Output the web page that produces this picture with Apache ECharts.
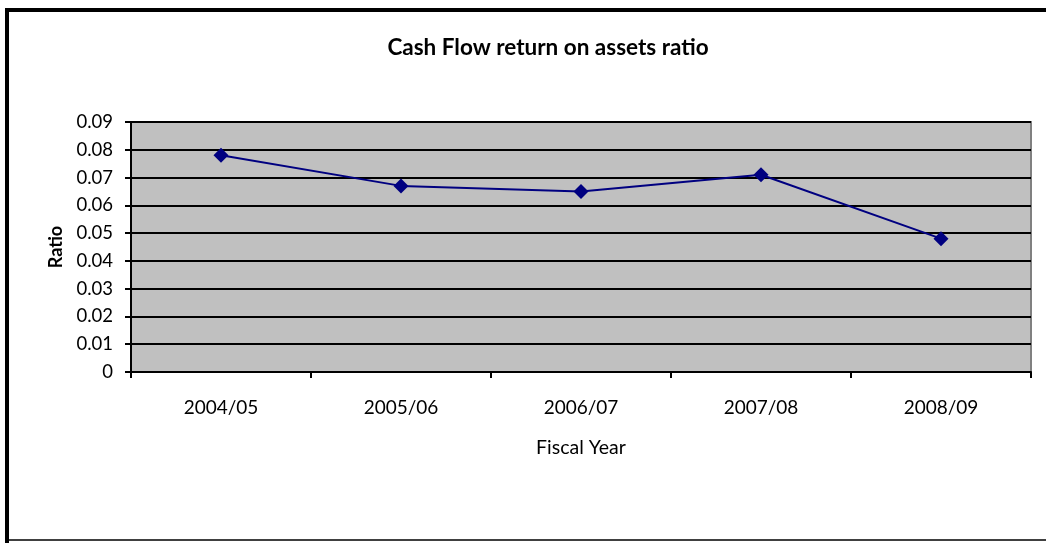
<!DOCTYPE html>
<html>
<head>
<meta charset="utf-8">
<script src="https://cdn.jsdelivr.net/npm/echarts@6/dist/echarts.min.js"></script>
<style>
  html, body { margin: 0; padding: 0; background: #fff; }
  #main { width: 1046px; height: 543px; }
</style>
</head>
<body>
<div id="main"></div>
<script>
var years = ['2004/05', '2005/06', '2006/07', '2007/08', '2008/09'];
var ratio = [0.078, 0.067, 0.065, 0.071, 0.048];

var font = "Lato, 'Open Sans', sans-serif";
var chart = echarts.init(document.getElementById('main'));

var option = {
  animation: false,
  title: {
    text: 'Cash Flow return on assets ratio',
    left: 543,
    top: 31,
    textAlign: 'center',
    textStyle: { fontFamily: font, fontSize: 22.5, fontWeight: 'bold', color: '#000' }
  },
  graphic: [
    {
      type: 'polyline',
      shape: { points: [[7, 545], [7, 10], [1050, 10]] },
      style: { stroke: '#000', lineWidth: 4, fill: null }
    },
    {
      type: 'line',
      shape: { x1: 7, y1: 540, x2: 1050, y2: 540 },
      style: { stroke: '#000', lineWidth: 1.5 }
    }
  ],
  grid: {
    left: 131,
    right: 15,
    top: 122,
    bottom: 171,
    show: true,
    backgroundColor: '#C0C0C0',
    borderColor: '#808080',
    borderWidth: 2
  },
  xAxis: {
    type: 'category',
    data: years,
    boundaryGap: true,
    name: 'Fiscal Year',
    nameLocation: 'middle',
    nameGap: 66,
    nameTextStyle: { fontFamily: font, fontSize: 19.5, color: '#000' },
    axisLine: { lineStyle: { color: '#000', width: 2 } },
    axisTick: { show: true, length: 6, alignWithLabel: false, lineStyle: { color: '#000', width: 2 } },
    axisLabel: { fontFamily: font, fontSize: 19, color: '#000', margin: 26 },
    splitLine: { show: false }
  },
  yAxis: {
    type: 'value',
    min: 0,
    max: 0.09,
    interval: 0.01,
    name: 'Ratio',
    nameLocation: 'middle',
    nameGap: 66,
    nameTextStyle: { fontFamily: font, fontSize: 18, fontWeight: 'bold', color: '#000' },
    axisLine: { show: true, lineStyle: { color: '#000', width: 2 } },
    axisTick: { show: true, length: 6, lineStyle: { color: '#000', width: 2 } },
    axisLabel: {
      fontFamily: font, fontSize: 18.5, color: '#000', margin: 18,
      formatter: function (v) { return v === 0 ? '0' : v.toFixed(2); }
    },
    splitLine: { show: true, lineStyle: { color: '#000', width: 2 } }
  },
  series: [
    {
      name: 'Ratio',
      type: 'line',
      data: ratio,
      symbol: 'diamond',
      symbolSize: 15,
      itemStyle: { color: '#000080' },
      lineStyle: { color: '#000080', width: 2 }
    }
  ]
};

chart.setOption(option);
</script>
</body>
</html>
